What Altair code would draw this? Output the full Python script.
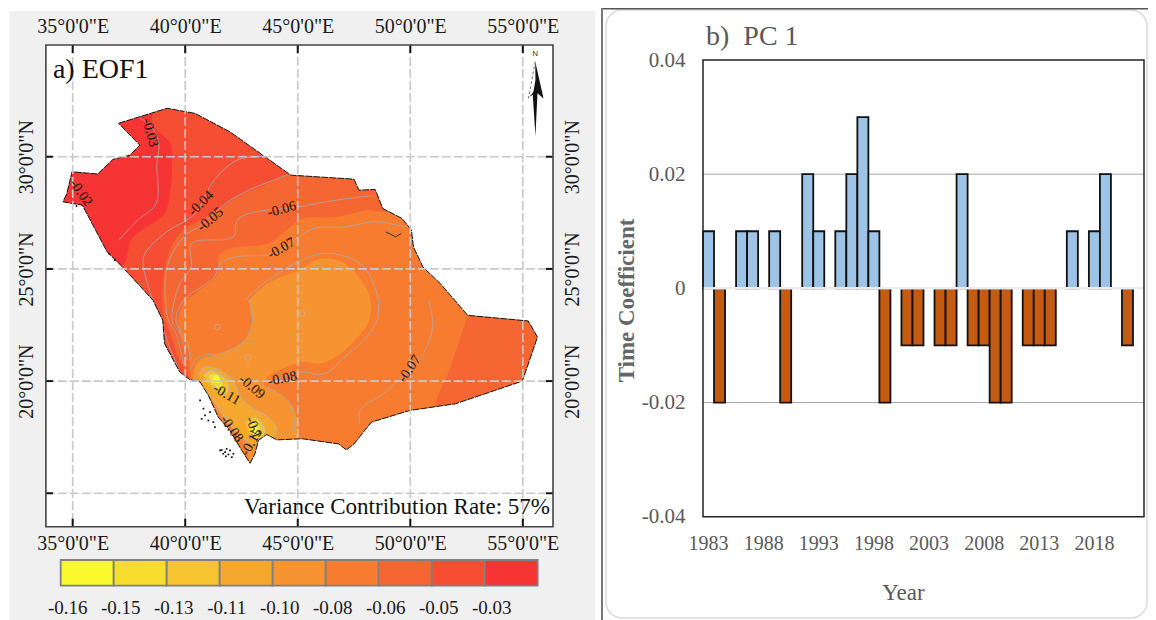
import altair as alt
import pandas as pd

SERIF = "Liberation Serif"
GREY_TXT = "#595959"

# ---------- panel a: map values (longitude / latitude) ----------
LON_DOM = [33.81, 56.34]
LAT_DOM = [13.51, 34.98]
LON_TICKS = [35, 40, 45, 50, 55]
LAT_TICKS = [15, 20, 25, 30]
LAT_LABELLED = [20, 25, 30]

outline = [(37.04,31.49),(39.20,32.16),(40.44,31.93),(41.97,31.12),(43.50,30.03),(44.69,29.18),(47.50,29.00),
           (47.72,28.51),(48.44,28.54),(48.78,27.69),(49.63,27.25),(50.05,26.73),(50.14,25.98),(50.56,25.09),
           (51.33,24.35),(52.55,22.93),(55.24,22.68),(55.65,21.96),(54.98,20.00),(52.01,18.99),(49.97,18.69),
           (48.27,18.17),(47.50,17.20),(47.16,16.93),(46.82,17.20),(45.20,17.43),(44.07,17.38),(43.62,17.62),
           (43.25,17.35),(43.10,16.76),(42.88,16.34),(42.51,16.91),(41.99,17.80),(41.47,18.39),(41.03,19.36),
           (40.66,19.96),(40.21,20.06),(39.76,20.40),(39.08,21.67),(39.00,22.71),(38.57,23.60),(37.21,25.09),
           (36.53,25.76),(35.43,27.84),(34.57,27.99),(34.74,28.36),(34.97,29.33),(36.11,29.23),(36.79,29.88),
           (37.55,30.07),(37.98,30.52),(37.04,31.49)]
gulf_inlet = [(48.92,26.65),(49.35,26.43),(49.6,26.58)]

BAND_COLORS = ["#F9F92E","#F8DC2E","#F6C42F","#F6A72D","#F79432","#F87C2F","#F66632","#F64E32","#F63434"]
LEGEND_LABELS = ["-0.16","-0.15","-0.13","-0.11","-0.10","-0.08","-0.06","-0.05","-0.03"]

base_band = [(33.9,34.9),(56.2,34.9),(56.2,13.6),(33.9,13.6)]
red_band = [(38.5,33.0),(38.5,33.0),(38.54,31.86),(38.49,31.49),(39.34,30.6),(39.42,30.0),(39.34,28.51),(39.08,27.47),
            (37.64,26.35),(37.30,25.24),(36.87,25.09),(36.87,25.09),(33.9,25.0),(33.9,25.0),(33.9,33.0),(33.9,33.0)]
band7 = [(46.22,30.45),(46.22,30.45),(44.61,29.26),(43.67,28.81),(42.31,28.21),(40.95,27.32),(39.76,26.58),(39.17,25.39),
         (39.0,24.05),(39.08,22.71),(39.34,22.11),(39.68,21.07),(40.1,20.33),(40.27,19.88),(40.27,19.88),(40.0,15.5),(40.0,15.5),
         (56.0,15.5),(56.0,15.5),(56.0,30.45),(56.0,30.45)]
band6 = [(50.5,28.2),(50.5,28.2),(48.95,27.55),(48.10,27.62),(46.73,27.32),(45.2,27.25),(44.52,26.73),(43.67,26.13),
         (41.97,25.91),(41.46,25.54),(41.46,24.79),(40.44,23.90),(39.93,23.45),(39.68,22.71),(39.76,22.11),
         (40.1,21.37),(40.19,20.77),(40.27,20.03),(40.27,20.03),(40.2,15.5),(40.2,15.5),(51.0,15.5),(51.0,15.5),(51.07,18.84),(51.67,20.33),
         (52.18,21.82),(52.55,22.93),(53.0,24.0),(53.0,24.0),(52.5,28.2),(52.5,28.2)]
band5 = [(42.82,23.60),(43.67,24.35),(45.03,24.94),(46.05,25.46),(47.07,25.24),(47.92,24.35),(48.23,23.60),
         (48.18,22.71),(47.67,21.96),(46.9,21.22),(45.97,20.77),(45.2,20.85),(43.67,20.18),(43.5,19.88),
         (44.35,19.29),(44.86,18.69),(45.03,17.65),(44.86,16.9),(44.86,16.9),(41.97,16.16),(41.97,16.16),(40.27,19.73),(40.27,19.73),(40.44,20.62),
         (40.61,20.92),(41.97,21.37),(42.65,21.82),(43.0,22.56)]
coast_strip = [(41.03,19.44),(41.55,18.47),(42.14,17.80),(42.66,17.05),(42.88,16.38),(42.88,16.38),(41.0,16.2),(41.0,16.2),(40.5,19.5),(40.5,19.5)]
band4 = [(40.58,20.33),(40.88,20.63),(41.55,20.48),(42.14,19.96),(42.51,19.21),(43.03,18.77),(43.69,18.39),
         (44.07,17.87),(43.92,17.50),(43.40,17.43),(43.03,17.20),(42.44,17.58),(41.92,18.17),(41.25,19.14),(40.73,19.81)]
band3a = [(40.81,20.25),(41.10,20.48),(41.62,20.25),(41.92,19.81),(41.84,19.44),(41.47,19.51),(41.10,19.81)]
band3b = [(42.66,18.17),(43.03,18.39),(43.40,18.17),(43.55,17.72),(43.25,17.43),(42.88,17.58)]
band2a = [(41.03,20.25),(41.32,20.36),(41.62,20.11),(41.69,19.66),(41.47,19.66),(41.18,19.88)]
band2b = [(42.85,18.02),(43.10,18.22),(43.32,18.02),(43.37,17.72),(43.10,17.58),(42.88,17.72)]
band1a = [(41.18,20.18),(41.40,20.30),(41.55,20.11),(41.52,19.88),(41.32,19.91)]
band1b = [(42.95,17.92),(43.10,18.02),(43.25,17.87),(43.18,17.72),(43.03,17.72)]

contours = [
 [(37.89,31.79),(38.49,31.34),(38.83,30.6),(38.74,29.7),(38.71,27.92),(37.89,27.17),(37.04,26.28)],
 [(43.5,30.03),(42.31,29.85),(41.29,28.96),(40.44,27.47),(39.08,26.58),(38.15,25.54),(38.32,24.35),(38.91,22.71),(39.25,21.67),(39.68,20.62)],
 [(44.52,29.18),(42.82,28.51),(41.80,27.92),(40.61,26.87),(40.10,26.58),(39.42,25.68),(39.12,24.64),(39.25,22.71),(39.59,22.11),(39.93,20.77)],
 [(48.52,28.29),(46.73,28.07),(45.03,27.77),(42.82,27.47),(42.31,27.17),(42.14,26.43),(40.27,26.13),(40.27,25.09),(39.76,24.35),(39.42,22.71),(39.76,22.11),(40.1,20.92)],
 [(49.8,26.87),(48.44,27.10),(47.07,26.87),(45.71,26.80),(44.86,26.28),(44.01,25.68),(42.31,25.54),(41.55,25.24),(41.29,24.64),(39.93,23.60),(39.59,22.71),(40.1,21.67),(40.27,20.92)],
 [(42.65,23.60),(43.67,24.49),(46.05,25.68),(47.76,25.24),(48.52,23.90),(48.52,22.71),(47.92,21.82),(47.07,21.07),(46.22,20.33),(45.03,20.40),(44.01,20.03),(43.67,19.73)],
 [(50.82,23.6),(50.99,22.41),(50.48,21.07),(49.46,20.03),(48.78,19.43),(47.76,18.69),(47.76,18.10)],
 [(42.82,23.6),(43.0,22.86),(42.65,21.82),(41.80,21.3),(40.61,21.07),(40.19,20.47)],
 [(43.67,19.73),(44.69,18.99),(44.86,17.65)],
]

contour_labels = [("-0.03",38.44,31.07,75),("-0.02",35.37,28.39,55),("-0.04",40.70,27.92,315),("-0.05",41.12,27.2,320),
                  ("-0.06",44.29,27.65,345),("-0.07",44.27,25.91,330),("-0.07",49.97,20.55,305),("-0.08",44.32,20.10,348),
                  ("-0.09",42.96,19.73,40),("-0.11",41.84,19.40,30),("-0.08",42.06,17.87,55),("-0.1",43.03,17.92,70),("-0.15",42.95,17.28,300)]
rings = [(45.2,23.01),(41.43,22.41),(42.79,21.04)]
specks = [(41.62,16.93),(41.77,16.83),(41.92,16.73),(42.07,16.61),(41.84,16.98),(41.69,16.76),(41.99,16.91),(42.14,16.76),
          (41.55,16.91),(41.81,16.64),(40.73,18.32),(40.88,18.47),(41.03,18.24),(41.10,18.62),(41.25,18.17),(41.32,17.95),
          (40.81,18.77),(40.66,19.14),(36.62,25.68),(36.87,25.39),(35.17,27.8)]
arrow_black = [(55.55,34.24),(55.92,32.6),(55.65,32.83),(55.56,30.92),(55.44,32.76),(55.32,32.68),(55.47,32.9),(55.56,33.42)]
arrow_dash = [(55.55,34.24),(55.25,32.6),(55.47,32.9)]

# ---------- panel b: PC1 ----------
years = list(range(1983, 2023))
pc1 = [.01,-.02,0,.01,.01,0,.01,-.02,0,.02,.01,0,.01,.02,.03,.01,-.02,0,-.01,-.01,0,-.01,-.01,.02,-.01,-.01,-.02,-.02,0,
       -.01,-.01,-.01,0,.01,0,.01,.02,0,-.01,0]
year_ticks = [1983,1988,1993,1998,2003,2008,2013,2018]
pc_ticks = [-0.04,-0.02,0,0.02,0.04]
pc_grid = [-0.02,0.02]

# canvas and panel frames (view pixels = page pixels - 8)
CW, CH = 1140, 612
ML, MR, MT, MB = 37.9, 545.0, 37.0, 518.7
BL, BR, BT, BB = 695.0, 1136.0, 52.0, 508.7

lon_s = alt.Scale(domain=LON_DOM, range=[ML, MR], nice=False, zero=False)
lat_s = alt.Scale(domain=LAT_DOM, range=[MB, MT], nice=False, zero=False)
X = lambda ax=None: alt.X("lon:Q", scale=lon_s, axis=ax, title=None)
Y = lambda ax=None: alt.Y("lat:Q", scale=lat_s, axis=ax, title=None)
ONE = pd.DataFrame({"k": [0]})


def df(pts):
    return pd.DataFrame({"lon": [p[0] for p in pts], "lat": [p[1] for p in pts], "i": range(len(pts))})


def poly(pts, fill, stroke=None, width=0, interp="linear"):
    kw = dict(fill=fill, interpolate=interp)
    if stroke:
        kw.update(stroke=stroke, strokeWidth=width)
    else:
        kw.update(strokeOpacity=0)
    return alt.Chart(df(pts)).mark_line(**kw).encode(x=X(), y=Y(), order="i:Q")


CR = "catmull-rom"
L = []
L.append(alt.Chart(ONE).mark_rect(fill="#F0F0F0").encode(
    x=alt.value(1.2), x2=alt.value(587), y=alt.value(3), y2=alt.value(CH)))
L.append(poly(base_band, BAND_COLORS[7]))
L.append(poly(red_band, BAND_COLORS[8], interp=CR))
L.append(poly(band7, BAND_COLORS[6], interp=CR))
L.append(poly(band6, BAND_COLORS[5], interp=CR))
L.append(poly(band5, BAND_COLORS[4], interp=CR))
L.append(poly(coast_strip, BAND_COLORS[5], interp=CR))
L.append(poly(band4, BAND_COLORS[3], "#B5B5B5", 0.8, CR))
for b in (band3a, band3b):
    L.append(poly(b, BAND_COLORS[2], "#B5B5B5", 0.8, CR))
for b in (band2a, band2b):
    L.append(poly(b, BAND_COLORS[1], "#B5B5B5", 0.8, CR))
for b in (band1a, band1b):
    L.append(poly(b, BAND_COLORS[0], "#B5B5B5", 0.6, CR))
for c in contours:
    L.append(alt.Chart(df(c)).mark_line(color="#ABABAB", strokeWidth=0.8, interpolate=CR).encode(x=X(), y=Y(), order="i:Q"))

# white mask outside the country, with a slit down to the outline
top_lat, bot_lat = LAT_DOM[1], LAT_DOM[0]
l0, r0 = LON_DOM
start = outline[0]
mask = [(start[0], top_lat), (r0, top_lat), (r0, bot_lat), (l0, bot_lat), (l0, top_lat), (start[0], top_lat)] + outline[::-1] + [(start[0], top_lat)]
L.append(poly(mask, "#FFFFFF"))
L.append(alt.Chart(df(outline)).mark_line(color="#111111", strokeWidth=1, strokeDash=[7, 1]).encode(x=X(), y=Y(), order="i:Q"))
L.append(alt.Chart(df(gulf_inlet)).mark_line(color="#333333", strokeWidth=1).encode(x=X(), y=Y(), order="i:Q"))
L.append(alt.Chart(df(specks)).mark_point(shape="square", filled=True, color="#111111", size=3, opacity=1).encode(x=X(), y=Y()))
L.append(alt.Chart(df(rings)).mark_point(shape="circle", filled=False, color="#BDBDBD", size=30, strokeWidth=0.8).encode(x=X(), y=Y()))

# graticule
lond = pd.DataFrame({"lon": LON_TICKS})
latd = pd.DataFrame({"lat": LAT_TICKS})
grid = dict(color="#C9C9C9", strokeWidth=1.6, strokeDash=[9, 3])
L.append(alt.Chart(lond).mark_rule(**grid).encode(x=X(), y=alt.value(MT), y2=alt.value(MB)))
L.append(alt.Chart(latd).mark_rule(**grid).encode(y=Y(), x=alt.value(ML), x2=alt.value(MR)))
# inward ticks
tick = dict(color="#111111", strokeWidth=2)
L.append(alt.Chart(lond).mark_rule(**tick).encode(x=X(), y=alt.value(MT), y2=alt.value(MT + 8)))
L.append(alt.Chart(lond).mark_rule(**tick).encode(x=X(), y=alt.value(MB - 8), y2=alt.value(MB)))
L.append(alt.Chart(latd).mark_rule(**tick).encode(y=Y(), x=alt.value(ML), x2=alt.value(ML + 7)))
L.append(alt.Chart(latd).mark_rule(**tick).encode(y=Y(), x=alt.value(MR - 7), x2=alt.value(MR)))
# frame
L.append(alt.Chart(ONE).mark_rect(filled=False, stroke="#444444", strokeWidth=1.6).encode(
    x=alt.value(ML), x2=alt.value(MR), y=alt.value(MT), y2=alt.value(MB)))

# axes on four sides
lon_expr = "datum.value + '\u00b00\\'0\"E'"
lat_expr = "datum.value + '\u00b00\\'0\"N'"
common = dict(grid=False, ticks=False, domain=False, labelFont=SERIF, labelFontSize=20, labelColor="#1a1a1a", zindex=1, labelOverlap=False, labelFlush=False)
for o, off, pad, base in (("bottom", MB - CH, 7, "top"), ("top", -MT, 9, "bottom")):
    L.append(alt.Chart(lond).mark_point(opacity=0).encode(
        x=X(alt.Axis(orient=o, offset=off, values=LON_TICKS, labelExpr=lon_expr, labelPadding=pad, labelAngle=0, labelBaseline=base, **common))))
latl = pd.DataFrame({"lat": LAT_LABELLED})
for o, off, pad, base in (("left", -ML, 9, "bottom"), ("right", MR - CW, 9, "top")):
    L.append(alt.Chart(latl).mark_point(opacity=0).encode(
        y=Y(alt.Axis(orient=o, offset=off, values=LAT_LABELLED, labelExpr=lat_expr, labelPadding=pad, labelAngle=270, labelAlign="center", labelBaseline=base, **common))))

# contour labels
for t, lo, la, a in contour_labels:
    L.append(alt.Chart(pd.DataFrame({"lon": [lo], "lat": [la], "t": [t]})).mark_text(font=SERIF, fontSize=14, color="#111111", angle=a).encode(
        x=X(), y=Y(), text="t:N"))

# north arrow
L.append(poly(arrow_black, "#111111"))
L.append(alt.Chart(df(arrow_dash)).mark_line(color="#777777", strokeWidth=1, strokeDash=[3, 2]).encode(x=X(), y=Y(), order="i:Q"))
L.append(alt.Chart(pd.DataFrame({"lon": [55.55], "lat": [34.6], "t": ["N"]})).mark_text(font="Liberation Sans", fontSize=8, color="#333333").encode(x=X(), y=Y(), text="t:N"))

# captions
L.append(alt.Chart(pd.DataFrame({"t": ["a) EOF1"]})).mark_text(font=SERIF, fontSize=28, align="left", color="#111111").encode(
    x=alt.value(ML + 7), y=alt.value(MT + 25), text="t:N"))
L.append(alt.Chart(pd.DataFrame({"t": ["Variance Contribution Rate: 57%"]})).mark_text(font=SERIF, fontSize=23, align="right", color="#111111").encode(
    x=alt.value(MR - 3), y=alt.value(MT + 462), text="t:N"))

# colour legend
leg = pd.DataFrame({"i": list(range(9)), "j": list(range(1, 10)), "c": BAND_COLORS, "t": LEGEND_LABELS})
leg_x = alt.Scale(domain=[0, 9], range=[52.7, 529.7], nice=False, zero=False)
L.append(alt.Chart(leg).mark_rect(stroke="#808080", strokeWidth=1.8).encode(
    x=alt.X("i:Q", scale=leg_x, axis=None), x2="j:Q",
    y=alt.value(552), y2=alt.value(577.7),
    fill=alt.Fill("c:N", scale=None, legend=None)))
L.append(alt.Chart(leg).mark_text(font=SERIF, fontSize=19, color="#1a1a1a", dx=7).encode(
    x=alt.X("i:Q", scale=leg_x, axis=None), y=alt.value(600), text="t:N"))

# ---------- right panel ----------
pc = pd.DataFrame({"year": years, "v": pc1})
pc = pc[pc.v != 0]
pc_s = alt.Scale(domain=[-0.04, 0.04], range=[BB, BT], nice=False, zero=False)
yr_s = alt.Scale(domain=years, range=[BL, BR], paddingInner=0, paddingOuter=0)
YR = lambda ax=None: alt.X("year:O", scale=yr_s, axis=ax, title=None)
PC = lambda ax=None: alt.Y("v:Q", scale=pc_s, axis=ax, title=None)

L.append(alt.Chart(ONE).mark_rect(filled=False, stroke="#DADADA", strokeWidth=1.5, cornerRadius=16).encode(
    x=alt.value(598), x2=alt.value(1139), y=alt.value(2), y2=alt.value(610)))
L.append(alt.Chart(ONE).mark_rule(color="#555555", strokeWidth=1.5).encode(
    x=alt.value(594), x2=alt.value(CW), y=alt.value(0.7)))
L.append(alt.Chart(ONE).mark_rule(color="#777777", strokeWidth=2).encode(
    x=alt.value(594), y=alt.value(0), y2=alt.value(CH)))
L.append(alt.Chart(pd.DataFrame({"v": pc_grid})).mark_rule(color="#A6A6A6", strokeWidth=1).encode(
    y=PC(), x=alt.value(BL), x2=alt.value(BR)))
L.append(alt.Chart(pc).mark_bar(stroke="#111111", strokeWidth=1.8).encode(
    x=YR(alt.Axis(orient="bottom", offset=BB - CH, values=year_ticks, labelAngle=0, ticks=False, domain=False, grid=False,
                  labelFont=SERIF, labelFontSize=20, labelColor=GREY_TXT, labelPadding=17, labelOverlap=False, title="Year",
                  titleFont=SERIF, titleFontSize=23, titleFontWeight="normal", titleColor=GREY_TXT, titleX=895, titleY=65)),
    y=PC(alt.Axis(orient="left", offset=-BL, values=pc_ticks, ticks=False, domain=False, grid=False, labelFont=SERIF,
                  labelFontSize=21, labelColor=GREY_TXT, labelPadding=18,
                  labelExpr="datum.value == 0 ? '0' : replace(format(datum.value, '.2f'), '\u2212', '-')",
                  title="Time Coefficient", titleFont=SERIF, titleFontSize=23, titleFontWeight="bold", titleColor="#666666",
                  titleX=-65, titleY=292)),
    color=alt.condition("datum.v > 0", alt.value("#9DC3E6"), alt.value("#C55A11"))))
L.append(alt.Chart(pd.DataFrame({"v": [0]})).mark_rule(color="#ECECEC", strokeWidth=2.5).encode(
    y=PC(), x=alt.value(BL), x2=alt.value(BR)))
L.append(alt.Chart(ONE).mark_rect(filled=False, stroke="#222222", strokeWidth=1.5).encode(
    x=alt.value(BL), x2=alt.value(BR), y=alt.value(BT), y2=alt.value(BB)))
L.append(alt.Chart(pd.DataFrame({"t": ["b)\u00a0\u00a0PC 1"]})).mark_text(font=SERIF, fontSize=28, align="left", color=GREY_TXT).encode(
    x=alt.value(BL + 3), y=alt.value(29), text="t:N"))

chart = alt.layer(*L).resolve_scale(x="independent", y="independent").resolve_axis(x="independent", y="independent").properties(
    width=CW, height=CH, padding=0, background="white", autosize=alt.AutoSizeParams(type="none")
).configure_view(stroke=None)

chart.save("out.html", embed_options={"renderer": "svg", "actions": False})
